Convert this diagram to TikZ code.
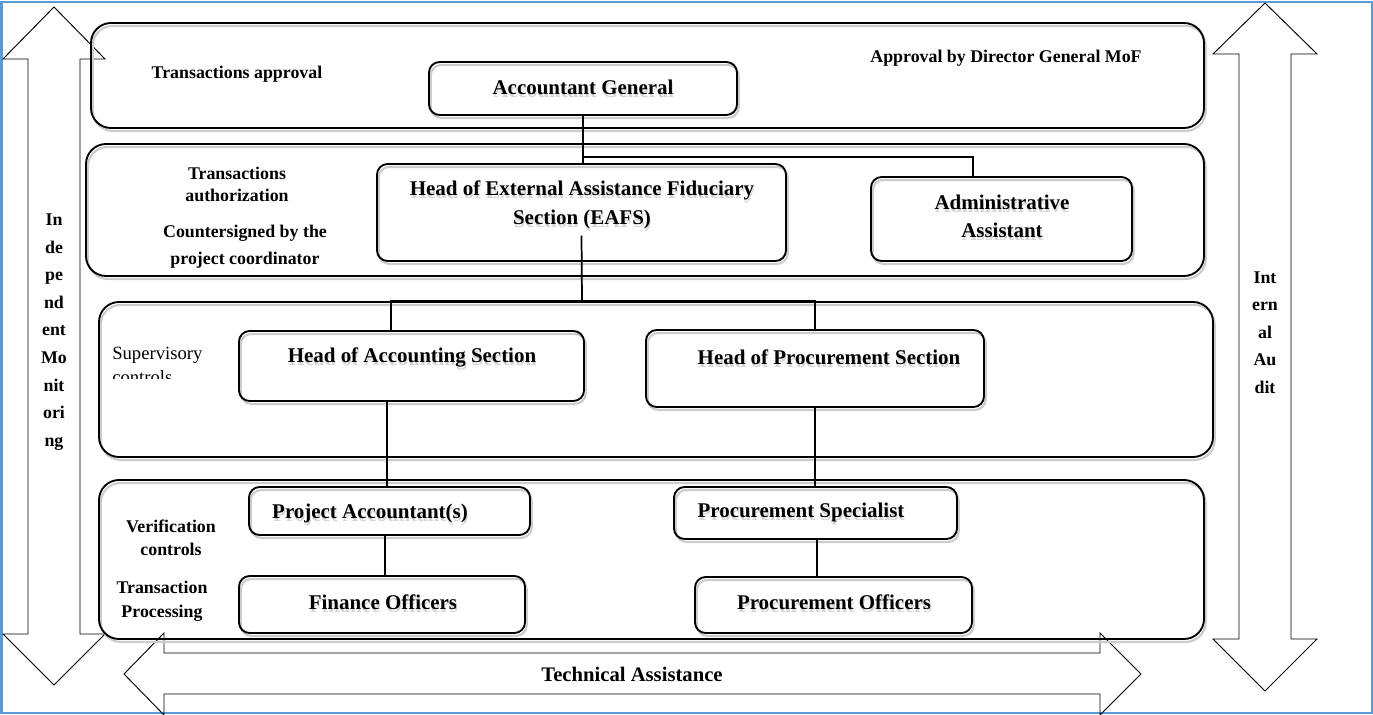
\documentclass[tikz,border=0pt]{standalone}
\usepackage{fontspec}
\setmainfont{Liberation Serif}
\usetikzlibrary{calc}
\definecolor{framebl}{RGB}{91,155,213}
\newcommand\upx{0.75pt}
% rounded box as an empty named node: style, name, x1, x2, y1, y2
\newcommand\mkbox[6]{\node[#1, minimum width=(#4-#3)*\upx, minimum height=(#6-#5)*\upx] (#2) at ({(#3+#4)/2},{(#5+#6)/2}) {};}
% box caption with its soft grey echo: name, x, y, text
\newcommand\boxlabel[4]{%
  \node[btxt, text=black!16] at ([xshift=0.6pt,yshift=-2.3pt]#2,#3) {#4};%
  \node[btxt] (#1) at (#2,#3) {#4};}
\begin{document}
\begin{tikzpicture}[x=0.75pt,y=-0.75pt,
  shade/.style={preaction={draw=black!20, line width=1.6pt, transform canvas={shift={(1.3pt,-2.2pt)}}}},
  lane/.style={draw, line width=1.4pt, rounded corners=15pt, inner sep=0pt, outer sep=0pt, shade},
  post/.style={draw, line width=1.4pt, rounded corners=8pt, inner sep=0pt, outer sep=0pt, shade},
  conn/.style={line width=1.3pt},
  blockarrow/.style={draw, line width=0.7pt, line join=miter},
  btxt/.style={font=\bfseries\fontsize{15.7}{21}\selectfont, align=center, inner sep=0pt},
  stxt/.style={font=\bfseries\fontsize{13.4}{16.5}\selectfont, align=center, inner sep=0pt},
  vtxt/.style={font=\bfseries\fontsize{13.4}{20.7}\selectfont, align=center, inner sep=0pt}]
\useasboundingbox (0,0) rectangle (1373,714);
\clip (0,0) rectangle (1373,714);

% outer frame
\draw[framebl, line width=1.5pt] (1.5,1.5) rectangle (1371.5,712.5);

% block arrows
\draw[blockarrow] (54,7) -- (105,59) -- (80,59) -- (80,634) -- (105,634) -- (54,685)
  -- (3,634) -- (28,634) -- (28,59) -- (3,59) -- cycle;
\draw[blockarrow] (1265,3) -- (1317,54) -- (1291,54) -- (1291,639) -- (1317,639) -- (1265,691)
  -- (1213,639) -- (1239,639) -- (1239,54) -- (1213,54) -- cycle;
\draw[blockarrow] (124,674) -- (164,633) -- (164,653) -- (1100,653) -- (1100,633) -- (1141,674)
  -- (1100,715) -- (1100,694) -- (164,694) -- (164,715) -- cycle;

% control levels
\mkbox{lane}{approval}{91}{1204}{23}{128}
\mkbox{lane}{authorize}{86}{1204}{144}{276}
\mkbox{lane}{supervise}{99}{1213}{302}{457}
\mkbox{lane}{verify}{99}{1204}{480}{639}

% positions
\mkbox{post}{AGbox}{429}{737}{62}{115}
\mkbox{post}{EAFSbox}{377}{786}{164}{261}
\mkbox{post}{ADMbox}{871}{1132}{177}{261}
\mkbox{post}{HAbox}{239}{584}{331}{401}
\mkbox{post}{HPbox}{646}{984}{330}{407}
\mkbox{post}{PAbox}{249}{530}{487}{535}
\mkbox{post}{PSbox}{674}{957}{487}{539}
\mkbox{post}{FObox}{239}{525}{576}{633}
\mkbox{post}{PObox}{695}{972}{577}{633}

% captions of the positions
\boxlabel{AG}{583}{87}{Accountant General}
\boxlabel{EAFS}{582}{205}{Head of External Assistance Fiduciary\\[1pt]Section (EAFS)}
\boxlabel{ADM}{1002}{216.5}{\fontsize{15.7}{17}\selectfont Administrative\\Assistant}
\boxlabel{HA}{412}{357}{Head of Accounting Section}
\boxlabel{HP}{829}{357}{Head of Procurement Section}
\boxlabel{PA}{370}{513}{Project Accountant(s)}
\boxlabel{PS}{801}{512}{Procurement Specialist}
\boxlabel{FO}{383}{602}{Finance Officers}
\boxlabel{PO}{834}{602}{Procurement Officers}

% level captions
\node[stxt] (tapp) at (237,74) {Transactions approval};
\node[stxt] (dgmof) at (1006,58) {Approval by Director General MoF};
\node[stxt] (tauth) at (237,184) {Transactions\\authorization};
\node[stxt, font=\bfseries\fontsize{13.4}{20}\selectfont] (csign) at (245,246.5) {Countersigned by the\\project coordinator};
\node[stxt, font=\fontsize{14}{16.5}\selectfont, anchor=west] (sup) at (112,355) {Supervisory};
\begin{scope}
  \clip (100,300) rectangle (230,378.5);
  \node[stxt, font=\fontsize{14}{16.5}\selectfont, anchor=west] (supctl) at (112,377) {controls};
\end{scope}
\node[stxt, font=\bfseries\fontsize{13.4}{17.2}\selectfont] (verif) at (171,537.5) {Verification\\controls};
\node[stxt, font=\bfseries\fontsize{13.4}{18}\selectfont] (tproc) at (162,601) {Transaction\\Processing};
\node[vtxt] (indep) at (54,332) {In\\de\\pe\\nd\\ent\\Mo\\nit\\ori\\ng};
\node[vtxt] (iaudit) at (1265,332.5) {Int\\ern\\al\\Au\\dit};
\node[btxt, font=\bfseries\fontsize{15.5}{18}\selectfont] (tech) at (632,674) {Technical Assistance};

% reporting lines
\coordinate (agJoin) at (583,157);
\coordinate (admIn) at ([xshift=-28.5*\upx]ADMbox.north);
\draw[conn] (AGbox.south) -- (AGbox.south |- EAFSbox.north);
\draw[conn] (agJoin) -| (admIn);

\coordinate (eafsOut) at ([yshift=-23*\upx]EAFSbox.center);
\coordinate (eafsJoin) at (582,301);
\coordinate (haIn) at ([xshift=-20.5*\upx]HAbox.north);
\draw[conn] (eafsOut) -- (eafsJoin);
\draw[conn] (haIn) |- (eafsJoin) -| (HPbox.north);

\coordinate (haOut) at ([xshift=-24.5*\upx]HAbox.south);
\draw[conn] (haOut) -- (haOut |- PAbox.north);
\draw[conn] (HPbox.south) -- (HPbox.south |- PSbox.north);
\coordinate (paOut) at ([xshift=-4.5*\upx]PAbox.south);
\draw[conn] (paOut) -- (paOut |- FObox.north);
\coordinate (psOut) at ([xshift=1.5*\upx]PSbox.south);
\draw[conn] (psOut) -- (psOut |- PObox.north);
\end{tikzpicture}
\end{document}
